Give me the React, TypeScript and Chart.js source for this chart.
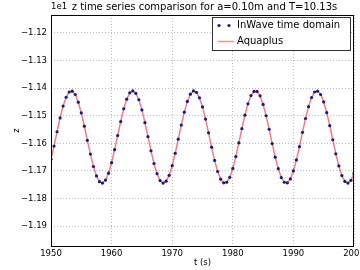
import { useEffect, useRef } from "react";
import { Chart, registerables } from "chart.js";

Chart.register(...registerables);

const TITLE = "z time series comparison for a=0.10m and T=10.13s";
const OFFSET_LABEL = "1e1";
const X_TITLE = "t (s)";
const Y_TITLE = "z";
const LEGEND_LABELS = ["InWave time domain", "Aquaplus"];

const timeS = [
  1950, 1950.5, 1951, 1951.5, 1952, 1952.5, 1953, 1953.5, 1954, 1954.5,
  1955, 1955.5, 1956, 1956.5, 1957, 1957.5, 1958, 1958.5, 1959, 1959.5,
  1960, 1960.5, 1961, 1961.5, 1962, 1962.5, 1963, 1963.5, 1964, 1964.5,
  1965, 1965.5, 1966, 1966.5, 1967, 1967.5, 1968, 1968.5, 1969, 1969.5,
  1970, 1970.5, 1971, 1971.5, 1972, 1972.5, 1973, 1973.5, 1974, 1974.5,
  1975, 1975.5, 1976, 1976.5, 1977, 1977.5, 1978, 1978.5, 1979, 1979.5,
  1980, 1980.5, 1981, 1981.5, 1982, 1982.5, 1983, 1983.5, 1984, 1984.5,
  1985, 1985.5, 1986, 1986.5, 1987, 1987.5, 1988, 1988.5, 1989, 1989.5,
  1990, 1990.5, 1991, 1991.5, 1992, 1992.5, 1993, 1993.5, 1994, 1994.5,
  1995, 1995.5, 1996, 1996.5, 1997, 1997.5, 1998, 1998.5, 1999, 1999.5,
  2000,
];

const inwaveZ = [
  -1.1658, -1.161, -1.1558, -1.1508, -1.1465, -1.1433, -1.1414, -1.1411, -1.1423, -1.1451,
  -1.149, -1.1538, -1.1589, -1.1639, -1.1684, -1.1718, -1.1739, -1.1744, -1.1733, -1.1708,
  -1.167, -1.1623, -1.1572, -1.1521, -1.1475, -1.144, -1.1417, -1.141, -1.1419, -1.1442,
  -1.1479, -1.1525, -1.1576, -1.1627, -1.1673, -1.171, -1.1735, -1.1744, -1.1737, -1.1716,
  -1.1681, -1.1636, -1.1585, -1.1534, -1.1487, -1.1448, -1.1422, -1.141, -1.1415, -1.1435,
  -1.1468, -1.1512, -1.1562, -1.1614, -1.1662, -1.1702, -1.173, -1.1743, -1.1741, -1.1723,
  -1.1691, -1.1648, -1.1598, -1.1547, -1.1498, -1.1457, -1.1427, -1.1412, -1.1412, -1.1428,
  -1.1459, -1.15, -1.1549, -1.1601, -1.165, -1.1692, -1.1724, -1.1741, -1.1743, -1.1729,
  -1.17, -1.166, -1.1612, -1.156, -1.151, -1.1467, -1.1434, -1.1414, -1.1411, -1.1423,
  -1.145, -1.1489, -1.1536, -1.1587, -1.1638, -1.1682, -1.1717, -1.1738, -1.1744, -1.1734,
  -1.1709,
];

const aquaplusZ = [
  -1.1658, -1.161, -1.1558, -1.1508, -1.1465, -1.1433, -1.1414, -1.1411, -1.1423, -1.1451,
  -1.149, -1.1538, -1.1589, -1.1639, -1.1684, -1.1718, -1.1739, -1.1744, -1.1733, -1.1708,
  -1.167, -1.1623, -1.1572, -1.1521, -1.1475, -1.144, -1.1417, -1.141, -1.1419, -1.1442,
  -1.1479, -1.1525, -1.1576, -1.1627, -1.1673, -1.171, -1.1735, -1.1744, -1.1737, -1.1716,
  -1.1681, -1.1636, -1.1585, -1.1534, -1.1487, -1.1448, -1.1422, -1.141, -1.1415, -1.1435,
  -1.1468, -1.1512, -1.1562, -1.1614, -1.1662, -1.1702, -1.173, -1.1743, -1.1741, -1.1723,
  -1.1691, -1.1648, -1.1598, -1.1547, -1.1498, -1.1457, -1.1427, -1.1412, -1.1412, -1.1428,
  -1.1459, -1.15, -1.1549, -1.1601, -1.165, -1.1692, -1.1724, -1.1741, -1.1743, -1.1729,
  -1.17, -1.166, -1.1612, -1.156, -1.151, -1.1467, -1.1434, -1.1414, -1.1411, -1.1423,
  -1.145, -1.1489, -1.1536, -1.1587, -1.1638, -1.1682, -1.1717, -1.1738, -1.1744, -1.1734,
  -1.1709,
];

const xTicks = [1950, 1960, 1970, 1980, 1990, 2000];
const yTicks = [-1.19, -1.18, -1.17, -1.16, -1.15, -1.14, -1.13, -1.12];
const X_MIN = 1950;
const X_MAX = 2000;
const Y_MIN = -1.1972;
const Y_MAX = -1.1135;

const FONT = "'DejaVu Sans', sans-serif";
const DOT_COLOR = "#1b1b78";
const LINE_COLOR = "rgba(228, 40, 60, 0.6)";
const LEGEND_LINE_COLOR = "rgba(240, 110, 110, 0.75)";

const decorPlugin = {
  id: "mplDecor",
  afterDraw(chart: any) {
    const { ctx, chartArea } = chart;
    const { left, right, top, bottom } = chartArea;
    ctx.save();
    // frame
    ctx.strokeStyle = "#000";
    ctx.lineWidth = 1;
    ctx.strokeRect(Math.round(left) + 0.5, Math.round(top) + 0.5, Math.round(right - left) - 1, Math.round(bottom - top));
    // title
    ctx.fillStyle = "#000";
    ctx.font = `10px ${FONT}`;
    ctx.textAlign = "center";
    ctx.textBaseline = "middle";
    ctx.fillText(TITLE, (left + right) / 2 + 2, 7);
    // offset label
    ctx.font = `8.5px ${FONT}`;
    ctx.textAlign = "left";
    ctx.fillText(OFFSET_LABEL, left, 7);
    // legend
    const lx = 212.5, ly = 17.5, lw = 138, lh = 33;
    ctx.fillStyle = "#fff";
    ctx.fillRect(lx, ly, lw, lh);
    ctx.strokeStyle = "#333";
    ctx.lineWidth = 1;
    ctx.strokeRect(lx, ly, lw, lh);
    ctx.fillStyle = DOT_COLOR;
    for (const dx of [219, 229]) {
      ctx.beginPath();
      ctx.arc(dx, 25.5, 1.6, 0, Math.PI * 2);
      ctx.fill();
    }
    ctx.strokeStyle = LEGEND_LINE_COLOR;
    ctx.lineWidth = 1.5;
    ctx.beginPath();
    ctx.moveTo(218, 41.5);
    ctx.lineTo(234, 41.5);
    ctx.stroke();
    ctx.fillStyle = "#000";
    ctx.font = `10px ${FONT}`;
    ctx.textAlign = "left";
    ctx.textBaseline = "middle";
    ctx.fillText(LEGEND_LABELS[0], 237, 25.5);
    ctx.fillText(LEGEND_LABELS[1], 237, 41.5);
    ctx.restore();
  },
};

export default function App() {
  const canvasRef = useRef<HTMLCanvasElement | null>(null);

  useEffect(() => {
    document.body.style.margin = "0";
    const canvas = canvasRef.current;
    if (!canvas) return;
    const chart = new Chart(canvas, {
      type: "scatter",
      data: {
        datasets: [
          {
            label: LEGEND_LABELS[0],
            data: timeS.map((t, i) => ({ x: t, y: inwaveZ[i] })),
            showLine: false,
            pointRadius: 1.6,
            pointHoverRadius: 1.6,
            pointBackgroundColor: DOT_COLOR,
            pointBorderWidth: 0,
          },
          {
            label: LEGEND_LABELS[1],
            type: "line",
            data: timeS.map((t, i) => ({ x: t, y: aquaplusZ[i] })),
            showLine: true,
            borderColor: LINE_COLOR,
            borderWidth: 1.5,
            pointRadius: 0,
            fill: false,
            tension: 0,
          } as any,
        ],
      },
      options: {
        animation: false,
        responsive: false,
        maintainAspectRatio: false,
        layout: { padding: { left: 12, right: 6, top: 15, bottom: 2 } },
        plugins: {
          legend: { display: false },
          title: { display: false },
          tooltip: { enabled: false },
        },
        scales: {
          x: {
            type: "linear",
            min: X_MIN,
            max: X_MAX,
            afterBuildTicks: (scale: any) => {
              scale.ticks = xTicks.map((v) => ({ value: v }));
            },
            afterFit: (scale: any) => {
              scale.height = 22;
              scale.paddingLeft = 0;
              scale.paddingRight = 0;
            },
            grid: { color: "#bdbdbd", drawTicks: false, lineWidth: 1 },
            border: { display: false, dash: [1, 2] },
            ticks: {
              color: "#000",
              padding: 3,
              maxRotation: 0,
              autoSkip: false,
              font: { family: FONT, size: 8.5 },
              callback: (v: any) => String(v),
            },
            title: {
              display: true,
              text: X_TITLE,
              color: "#000",
              padding: { top: 0, bottom: 0 },
              font: { family: FONT, size: 8.5 },
            },
          },
          y: {
            type: "linear",
            min: Y_MIN,
            max: Y_MAX,
            afterBuildTicks: (scale: any) => {
              scale.ticks = yTicks.map((v) => ({ value: v }));
            },
            afterFit: (scale: any) => {
              scale.width = 39;
              scale.paddingTop = 0;
              scale.paddingBottom = 0;
            },
            grid: { color: "#bdbdbd", drawTicks: false, lineWidth: 1 },
            border: { display: false, dash: [1, 2] },
            ticks: {
              color: "#000",
              padding: 4,
              autoSkip: false,
              font: { family: FONT, size: 8.5 },
              callback: (v: any) => "\u2212" + Math.abs(Number(v)).toFixed(2),
            },
            title: {
              display: true,
              text: Y_TITLE,
              color: "#000",
              padding: { top: 0, bottom: 0 },
              font: { family: FONT, size: 8.5 },
            },
          },
        },
      },
      plugins: [decorPlugin],
    });
    return () => chart.destroy();
  }, []);

  return (
    <div style={{ width: 360, height: 270 }}>
      <canvas ref={canvasRef} width={360} height={270} style={{ display: "block", width: 360, height: 270 }} />
    </div>
  );
}
